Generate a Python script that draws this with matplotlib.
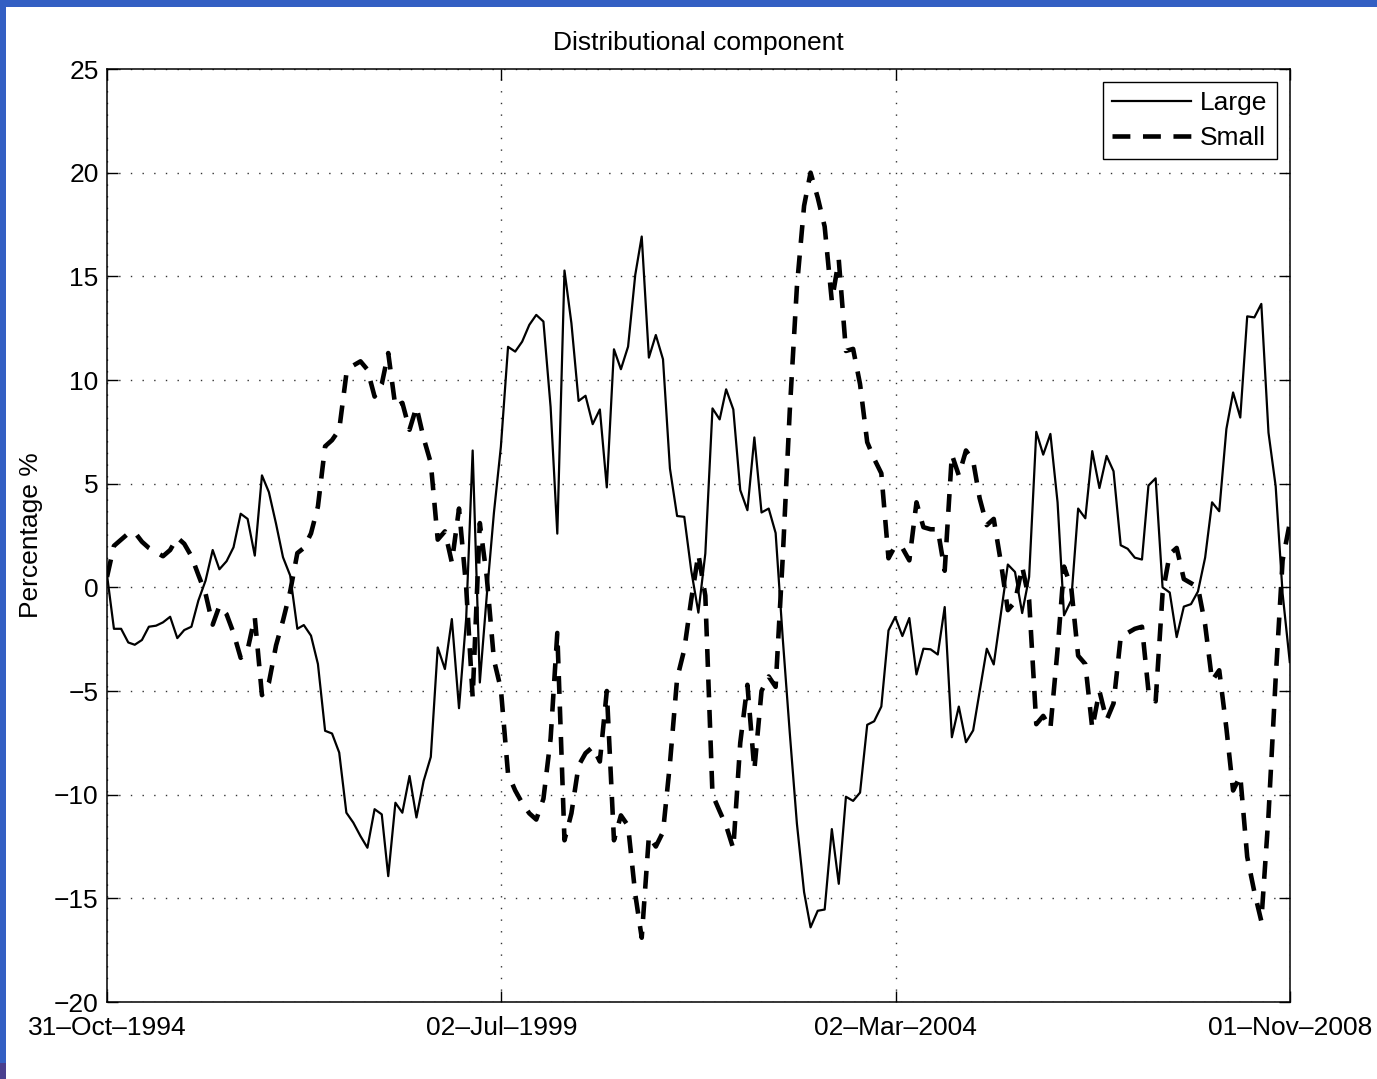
import numpy as np
import matplotlib
matplotlib.use("Agg")
import matplotlib.pyplot as plt
import matplotlib.dates as mdates
from matplotlib.patches import Rectangle
import datetime as dt

# Monthly observations, end of month, Oct 1994 .. Oct 2008
month_starts = np.arange(np.datetime64("1994-11"), np.datetime64("2008-12"),
                         dtype="datetime64[M]")
dates = (month_starts.astype("datetime64[D]") - np.timedelta64(1, "D")).astype(dt.datetime)

large = [
    0.6, -2.0, -2.0, -2.66, -2.77, -2.54, -1.9, -1.85, -1.69, -1.42,
    -2.45, -2.06, -1.9, -0.64, 0.32, 1.8, 0.87, 1.26, 1.93, 3.55,
    3.3, 1.53, 5.4, 4.59, 3.06, 1.45, 0.57, -2.0, -1.82, -2.33,
    -3.7, -6.92, -7.05, -7.97, -10.87, -11.35, -12.0, -12.56, -10.7, -10.95,
    -13.93, -10.39, -10.87, -9.1, -11.1, -9.34, -8.18, -2.9, -3.94, -1.53,
    -5.83, -1.5, 6.6, -4.59, -0.4, 3.6, 6.78, 11.6, 11.37, 11.85,
    12.66, 13.14, 12.82, 8.7, 2.59, 15.28, 12.74, 8.99, 9.24, 7.87,
    8.58, 4.82, 11.48, 10.52, 11.61, 15.07, 16.92, 11.08, 12.17, 11.0,
    5.73, 3.44, 3.4, 0.82, -1.22, 1.63, 8.63, 8.1, 9.55, 8.58,
    4.69, 3.72, 7.23, 3.61, 3.8, 2.62, -2.5, -7.0, -11.4, -14.7,
    -16.4, -15.6, -15.54, -11.66, -14.3, -10.1, -10.3, -9.9, -6.63, -6.46,
    -5.75, -2.08, -1.43, -2.35, -1.48, -4.2, -2.96, -2.99, -3.24, -0.95,
    -7.23, -5.75, -7.47, -6.9, -5.03, -2.96, -3.72, -1.27, 1.1, 0.74,
    -1.24, 0.5, 7.5, 6.4, 7.4, 4.1, -1.35, -0.63, 3.8, 3.33,
    6.57, 4.79, 6.34, 5.6, 2.03, 1.86, 1.43, 1.34, 4.91, 5.26,
    0.0, -0.25, -2.4, -0.93, -0.81, -0.2, 1.43, 4.1, 3.67, 7.64,
    9.4, 8.19, 13.07, 13.02, 13.67, 7.46, 4.88, -0.3, -3.6,
]

small = [
    0.5, 2.0, 2.3, 2.6, 2.65, 2.2, 1.9, 1.7, 1.5, 1.8,
    2.4, 2.1, 1.5, 0.6, -0.3, -1.8, -0.9, -1.3, -2.2, -3.4,
    -3.0, -1.45, -5.2, -4.6, -2.8, -1.6, -0.2, 1.65, 1.9, 2.6,
    3.9, 6.8, 7.1, 7.6, 10.3, 10.7, 10.9, 10.5, 9.2, 9.8,
    11.3, 8.7, 8.9, 7.6, 8.7, 7.2, 6.0, 2.3, 2.7, 1.2,
    3.8, 0.0, -5.3, 3.1, 0.5, -3.5, -4.9, -9.0, -9.8, -10.4,
    -10.9, -11.2, -10.2, -7.3, -2.2, -12.2, -10.9, -8.6, -8.0, -7.7,
    -8.4, -5.0, -12.2, -11.0, -11.5, -14.8, -16.9, -12.0, -12.5, -11.8,
    -8.5, -4.4, -3.0, -0.6, 1.6, -0.4, -10.0, -10.8, -11.5, -12.6,
    -7.5, -4.7, -8.8, -5.0, -4.3, -4.8, 1.5, 8.5, 14.5, 18.4,
    20.0, 18.8, 17.4, 13.8, 15.8, 11.4, 11.5, 9.8, 7.0, 6.2,
    5.5, 1.4, 2.0, 1.9, 1.3, 4.1, 2.9, 2.8, 2.8, 0.8,
    6.4, 5.4, 6.6, 6.1, 4.3, 3.0, 3.3, 1.2, -1.1, -0.7,
    1.0, -0.6, -6.6, -6.2, -6.8, -3.0, 1.0, 0.0, -3.3, -3.7,
    -6.8, -5.0, -6.4, -5.6, -2.4, -2.2, -2.0, -1.9, -5.0, -5.5,
    -0.3, 1.6, 1.9, 0.4, 0.2, 0.0, -1.8, -4.5, -4.0, -6.8,
    -9.8, -9.1, -13.0, -14.7, -16.1, -11.0, -4.4, 1.3, 3.1,
]

tick_dates = [dt.datetime(1994, 10, 31), dt.datetime(1999, 7, 2),
              dt.datetime(2004, 3, 2), dt.datetime(2008, 11, 1)]
tick_labels = [d.strftime("%d\u2013%b\u2013%Y") for d in tick_dates]
y_ticks = [-20, -15, -10, -5, 0, 5, 10, 15, 20, 25]

FS = 19
plt.rcParams["font.family"] = ["Liberation Sans", "DejaVu Sans"]
plt.rcParams["font.size"] = FS

fig = plt.figure(figsize=(13.77, 10.79), dpi=100)
W, H = 1377, 1079
ax = fig.add_axes([107 / W, 1 - 1002 / H, (1290 - 107) / W, (1002 - 69) / H])

# window frame strips
fig.patches.append(Rectangle((0, 1 - 7 / H), 1, 7 / H, transform=fig.transFigure,
                             facecolor="#335FC3", edgecolor="none", zorder=-1))
fig.patches.append(Rectangle((0, 16 / H), 6 / W, 1 - 16 / H, transform=fig.transFigure,
                             facecolor="#335FC3", edgecolor="none", zorder=-1))
fig.patches.append(Rectangle((0, 0), 6 / W, 16 / H, transform=fig.transFigure,
                             facecolor="#4A3F8E", edgecolor="none", zorder=-1))

ax.plot(dates, large, color="black", lw=1.6, label="Large")
ax.plot(dates, small, color="black", lw=3.3, dashes=(3.9, 2.75), label="Small")

ax.set_xlim(mdates.date2num(tick_dates[0]), mdates.date2num(tick_dates[-1]))
ax.set_ylim(-20, 25)
ax.set_xticks(mdates.date2num(tick_dates))
ax.set_xticklabels(tick_labels)
ax.set_yticks(y_ticks)
ax.set_yticklabels([str(v).replace("-", "\u2212") for v in y_ticks])

ax.grid(True, color="#333333", lw=1.0, linestyle=(0, (1, 7.4)))
ax.tick_params(direction="in", length=8, width=1.0, top=True, right=True,
               labelsize=FS, color="black")
ax.tick_params(axis="y", pad=6)
ax.tick_params(axis="x", pad=10)
for s in ax.spines.values():
    s.set_linewidth(1.1)

ax.set_title("Distributional component", fontsize=FS, pad=14)
ax.set_ylabel("Percentage %", fontsize=FS, labelpad=8)

leg = ax.legend(loc="upper right", fontsize=FS, handlelength=3.0,
                handletextpad=0.35, labelspacing=0.4, borderpad=0.35,
                borderaxespad=0.5, fancybox=False, framealpha=1)
leg.get_frame().set_edgecolor("black")
leg.get_frame().set_linewidth(1.0)

fig.savefig("out.png", dpi=100)
